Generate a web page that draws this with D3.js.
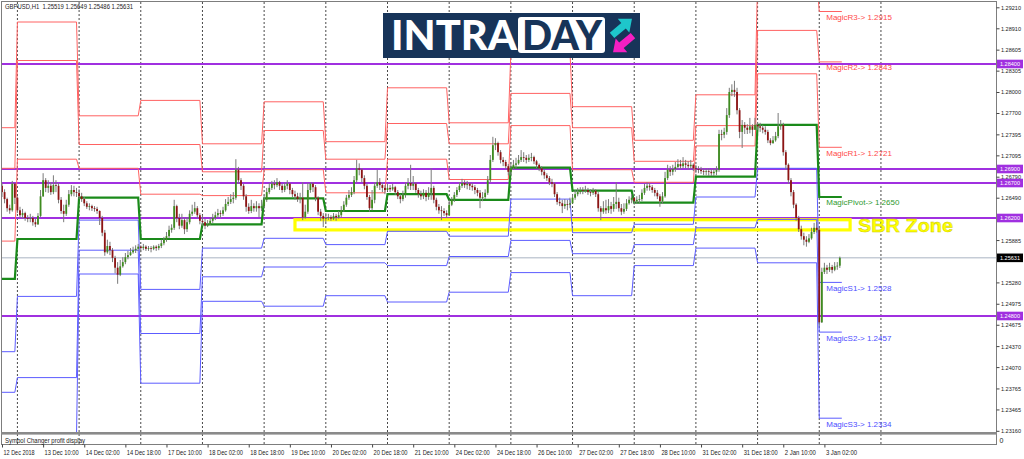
<!DOCTYPE html>
<html><head><meta charset="utf-8">
<script src="https://cdn.jsdelivr.net/npm/d3@7"></script>
<style>body{margin:0;background:#fff}svg{display:block}</style>
</head><body>
<svg id="c" width="1024" height="459"></svg>
<script>
// ---------------- DATA ----------------
const headerText = "GBPUSD,H1  1.25519 1.25649 1.25486 1.25631";
const subWindowTitle = "Symbol Changer profit display";
const dayNames = ["12 Dec","13 Dec","14 Dec","17 Dec","18 Dec","19 Dec","20 Dec","21 Dec","24 Dec","26 Dec","27 Dec","28 Dec","31 Dec","2 Jan","3 Jan"];
const dayFirstHour = [18,0,0,0,0,0,0,0,0,0,0,0,0,0,0];
const barsPerDay = [6,24,24,24,24,24,24,24,24,24,24,24,24,24,9];
const firstOpen = 1.2666;
const closes = [
1.2657,1.2647,1.2634,1.2631,1.2669,1.2649,
1.2631,1.2624,1.2627,1.2620,1.2619,1.2620,1.2614,1.2611,1.2623,1.2651,1.2674,1.2663,1.2666,1.2657,1.2667,1.2666,1.2646,1.2630,1.2626,1.2639,1.2654,1.2660,1.2657,1.2656,
1.2651,1.2647,1.2641,1.2636,1.2637,1.2634,1.2633,1.2630,1.2620,1.2599,1.2571,1.2580,1.2574,1.2563,1.2549,1.2539,1.2551,1.2557,1.2564,1.2567,1.2571,1.2574,1.2576,1.2579,
1.2577,1.2579,1.2576,1.2577,1.2576,1.2579,1.2577,1.2580,1.2584,1.2589,1.2594,1.2603,1.2606,1.2637,1.2620,1.2609,1.2617,1.2604,1.2614,1.2626,1.2629,1.2634,1.2624,1.2616,
1.2614,1.2609,1.2611,1.2616,1.2620,1.2624,1.2627,1.2626,1.2631,1.2640,1.2643,1.2647,1.2649,1.2689,1.2674,1.2666,1.2651,1.2636,1.2630,1.2637,1.2634,1.2637,1.2634,1.2637,
1.2646,1.2657,1.2663,1.2669,1.2667,1.2671,1.2666,1.2660,1.2666,1.2669,1.2660,1.2654,1.2651,1.2647,1.2649,1.2621,1.2629,1.2660,1.2669,1.2664,1.2649,1.2629,1.2623,1.2619,
1.2620,1.2621,1.2619,1.2623,1.2621,1.2624,1.2631,1.2639,1.2649,1.2653,1.2657,1.2674,1.2691,1.2689,1.2677,1.2666,1.2650,1.2634,1.2646,1.2666,1.2671,1.2667,1.2663,1.2660,
1.2663,1.2661,1.2664,1.2657,1.2651,1.2647,1.2653,1.2666,1.2670,1.2666,1.2669,1.2660,1.2654,1.2651,1.2656,1.2650,1.2656,1.2663,1.2646,1.2636,1.2631,1.2630,1.2627,1.2624,
1.2639,1.2646,1.2653,1.2660,1.2666,1.2670,1.2667,1.2669,1.2666,1.2664,1.2660,1.2656,1.2649,1.2650,1.2656,1.2674,1.2703,1.2724,1.2727,1.2714,1.2703,1.2700,1.2694,1.2686,
1.2691,1.2696,1.2698,1.2703,1.2707,1.2706,1.2703,1.2706,1.2707,1.2701,1.2696,1.2691,1.2686,1.2681,1.2677,1.2671,1.2669,1.2654,1.2643,1.2641,1.2637,1.2640,1.2639,1.2641,
1.2649,1.2654,1.2657,1.2660,1.2659,1.2660,1.2657,1.2656,1.2659,1.2654,1.2634,1.2629,1.2634,1.2631,1.2637,1.2633,1.2640,1.2643,1.2634,1.2629,1.2633,1.2641,1.2646,1.2649,
1.2644,1.2646,1.2647,1.2656,1.2663,1.2666,1.2664,1.2660,1.2656,1.2651,1.2644,1.2651,1.2677,1.2689,1.2686,1.2690,1.2693,1.2697,1.2694,1.2698,1.2696,1.2694,1.2696,1.2691,
1.2690,1.2689,1.2687,1.2686,1.2687,1.2686,1.2684,1.2686,1.2689,1.2740,1.2739,1.2743,1.2767,1.2800,1.2803,1.2800,1.2774,1.2743,1.2753,1.2749,1.2746,1.2751,1.2746,1.2753,
1.2751,1.2749,1.2746,1.2743,1.2731,1.2727,1.2731,1.2737,1.2751,1.2753,1.2714,1.2696,1.2674,1.2657,1.2639,1.2620,1.2604,1.2594,1.2589,1.2586,1.2591,1.2600,1.2606,1.2603,
1.2471,1.2543,1.2549,1.2546,1.2550,1.2546,1.2551,1.25519,1.25631];
const highs = [
1.2670,1.2661,1.2649,1.2639,1.2673,1.2670,
1.2651,1.2636,1.2633,1.2629,1.2624,1.2626,1.2623,1.2619,1.2627,1.2660,1.2684,1.2677,1.2674,1.2671,1.2681,1.2674,1.2670,1.2650,1.2639,1.2646,1.2660,1.2667,1.2666,1.2663,
1.2661,1.2656,1.2650,1.2644,1.2641,1.2639,1.2637,1.2636,1.2631,1.2623,1.2603,1.2589,1.2586,1.2577,1.2566,1.2557,1.2560,1.2564,1.2570,1.2573,1.2577,1.2579,1.2581,1.2583,
1.2581,1.2583,1.2581,1.2580,1.2580,1.2581,1.2581,1.2583,1.2589,1.2593,1.2600,1.2609,1.2611,1.2646,1.2639,1.2626,1.2626,1.2620,1.2621,1.2631,1.2639,1.2643,1.2637,1.2627,
1.2624,1.2619,1.2617,1.2621,1.2626,1.2629,1.2633,1.2631,1.2636,1.2647,1.2650,1.2654,1.2657,1.2704,1.2693,1.2677,1.2669,1.2654,1.2641,1.2646,1.2641,1.2644,1.2641,1.2646,
1.2653,1.2663,1.2670,1.2673,1.2674,1.2677,1.2673,1.2669,1.2671,1.2674,1.2670,1.2663,1.2659,1.2656,1.2656,1.2671,1.2639,1.2670,1.2671,1.2671,1.2667,1.2651,1.2633,1.2627,
1.2627,1.2626,1.2624,1.2627,1.2626,1.2630,1.2637,1.2644,1.2653,1.2660,1.2664,1.2680,1.2703,1.2698,1.2691,1.2681,1.2669,1.2653,1.2660,1.2671,1.2689,1.2677,1.2671,1.2667,
1.2669,1.2667,1.2669,1.2666,1.2660,1.2654,1.2659,1.2671,1.2677,1.2696,1.2680,1.2671,1.2663,1.2659,1.2661,1.2660,1.2664,1.2691,1.2666,1.2649,1.2640,1.2637,1.2634,1.2631,
1.2646,1.2650,1.2657,1.2664,1.2671,1.2676,1.2674,1.2673,1.2671,1.2670,1.2667,1.2663,1.2660,1.2657,1.2661,1.2680,1.2710,1.2736,1.2734,1.2729,1.2717,1.2707,1.2703,1.2697,
1.2700,1.2703,1.2706,1.2710,1.2717,1.2714,1.2710,1.2711,1.2713,1.2709,1.2703,1.2698,1.2694,1.2689,1.2684,1.2680,1.2676,1.2671,1.2657,1.2649,1.2646,1.2647,1.2646,1.2649,
1.2654,1.2660,1.2663,1.2664,1.2664,1.2666,1.2663,1.2661,1.2663,1.2661,1.2657,1.2637,1.2644,1.2646,1.2647,1.2643,1.2650,1.2671,1.2649,1.2640,1.2641,1.2647,1.2651,1.2654,
1.2650,1.2651,1.2653,1.2661,1.2669,1.2671,1.2670,1.2667,1.2663,1.2660,1.2654,1.2657,1.2686,1.2696,1.2694,1.2696,1.2700,1.2704,1.2703,1.2707,1.2703,1.2701,1.2703,1.2698,
1.2696,1.2694,1.2693,1.2691,1.2691,1.2691,1.2690,1.2691,1.2694,1.2746,1.2746,1.2749,1.2777,1.2806,1.2811,1.2816,1.2806,1.2777,1.2760,1.2757,1.2754,1.2763,1.2754,1.2763,
1.2757,1.2756,1.2753,1.2751,1.2746,1.2734,1.2737,1.2743,1.2770,1.2760,1.2756,1.2717,1.2698,1.2677,1.2660,1.2641,1.2623,1.2609,1.2599,1.2594,1.2597,1.2606,1.2613,1.2614,
1.2606,1.2549,1.2556,1.2553,1.2556,1.2553,1.2557,1.2557,1.25649];
const lows = [
1.2650,1.2641,1.2629,1.2626,1.2629,1.2640,
1.2627,1.2620,1.2619,1.2616,1.2614,1.2614,1.2609,1.2607,1.2610,1.2621,1.2650,1.2657,1.2656,1.2653,1.2654,1.2657,1.2641,1.2626,1.2614,1.2623,1.2636,1.2651,1.2651,1.2650,
1.2647,1.2643,1.2637,1.2633,1.2631,1.2630,1.2629,1.2626,1.2610,1.2594,1.2566,1.2569,1.2567,1.2557,1.2541,1.2526,1.2537,1.2549,1.2554,1.2561,1.2566,1.2569,1.2570,1.2573,
1.2571,1.2574,1.2573,1.2573,1.2571,1.2574,1.2573,1.2574,1.2577,1.2581,1.2586,1.2591,1.2599,1.2603,1.2614,1.2604,1.2606,1.2597,1.2600,1.2611,1.2623,1.2626,1.2620,1.2611,
1.2609,1.2604,1.2607,1.2610,1.2613,1.2617,1.2621,1.2620,1.2623,1.2629,1.2637,1.2640,1.2641,1.2646,1.2669,1.2660,1.2646,1.2629,1.2626,1.2627,1.2629,1.2629,1.2621,1.2630,
1.2634,1.2643,1.2654,1.2660,1.2661,1.2664,1.2660,1.2656,1.2657,1.2661,1.2654,1.2650,1.2646,1.2643,1.2641,1.2617,1.2619,1.2626,1.2656,1.2657,1.2644,1.2624,1.2616,1.2607,
1.2614,1.2617,1.2616,1.2617,1.2616,1.2619,1.2621,1.2629,1.2636,1.2646,1.2650,1.2654,1.2671,1.2681,1.2671,1.2661,1.2646,1.2629,1.2631,1.2641,1.2663,1.2660,1.2657,1.2654,
1.2659,1.2657,1.2659,1.2653,1.2647,1.2641,1.2644,1.2649,1.2661,1.2660,1.2660,1.2656,1.2649,1.2646,1.2647,1.2644,1.2646,1.2646,1.2641,1.2631,1.2626,1.2617,1.2623,1.2620,
1.2631,1.2637,1.2643,1.2650,1.2657,1.2663,1.2663,1.2661,1.2660,1.2659,1.2654,1.2651,1.2634,1.2644,1.2647,1.2653,1.2671,1.2700,1.2717,1.2709,1.2698,1.2694,1.2690,1.2681,
1.2681,1.2689,1.2691,1.2696,1.2700,1.2700,1.2698,1.2700,1.2701,1.2697,1.2691,1.2687,1.2681,1.2676,1.2673,1.2667,1.2664,1.2650,1.2639,1.2637,1.2627,1.2633,1.2631,1.2634,
1.2641,1.2646,1.2651,1.2654,1.2654,1.2656,1.2653,1.2651,1.2653,1.2650,1.2629,1.2617,1.2626,1.2626,1.2627,1.2626,1.2629,1.2633,1.2629,1.2624,1.2626,1.2630,1.2639,1.2641,
1.2639,1.2640,1.2641,1.2644,1.2653,1.2659,1.2659,1.2656,1.2651,1.2647,1.2636,1.2640,1.2649,1.2674,1.2680,1.2681,1.2686,1.2689,1.2690,1.2691,1.2691,1.2689,1.2690,1.2687,
1.2684,1.2684,1.2683,1.2681,1.2681,1.2680,1.2680,1.2680,1.2681,1.2686,1.2731,1.2734,1.2739,1.2763,1.2794,1.2793,1.2768,1.2734,1.2720,1.2740,1.2740,1.2741,1.2737,1.2746,
1.2746,1.2743,1.2741,1.2739,1.2727,1.2724,1.2726,1.2729,1.2734,1.2746,1.2709,1.2689,1.2669,1.2651,1.2634,1.2616,1.2600,1.2589,1.2581,1.2579,1.2584,1.2589,1.2597,1.2599,
1.2466,1.2470,1.2540,1.2540,1.2543,1.2541,1.2544,1.2546,1.25486];

// Daily "Magic" pivot levels (one value per day)
const magicR3 = [1.2749,1.2900,1.2766,1.2788,1.2726,1.2786,1.2729,1.2806,1.2756,1.2857,1.2779,1.2731,1.2796,1.2960,1.2915];
const magicR2 = [1.2691,1.2845,1.2725,1.2725,1.2686,1.2745,1.2704,1.2755,1.2726,1.2798,1.2749,1.2701,1.2752,1.2888,1.2843];
const magicR1 = [1.2587,1.2704,1.2691,1.2654,1.2652,1.2689,1.2656,1.2704,1.2675,1.2752,1.2689,1.2671,1.2723,1.2826,1.2721];
const magicP  = [1.2533,1.2590,1.2649,1.2590,1.2611,1.2648,1.2630,1.2654,1.2646,1.2692,1.2659,1.2642,1.2679,1.2753,1.2650];
const magicS1 = [1.2429,1.2508,1.2617,1.2518,1.2577,1.2591,1.2582,1.2601,1.2594,1.2647,1.2599,1.2611,1.2650,1.2691,1.2528];
const magicS2 = [1.2371,1.2392,1.2574,1.2455,1.2536,1.2550,1.2556,1.2552,1.2565,1.2588,1.2569,1.2582,1.2606,1.2618,1.2457];
const magicS3 = [1.2269,1.2311,1.2540,1.2384,1.2501,1.2494,1.2509,1.2500,1.2514,1.2542,1.2509,1.2552,1.2577,1.2556,1.2334];
const magicNames = ["MagicR3","MagicR2","MagicR1","MagicPivot","MagicS1","MagicS2","MagicS3"];

const levelLines = [1.28400,1.26900,1.26700,1.26200,1.24800];
const bidPrice = 1.25631;
const sbrZone = {top:1.26175, bottom:1.26030, from:"19 Dec 12:00", to:"3 Jan 12:00", label:"SBR Zone"};
const priceTicks = [1.29210,1.28910,1.28605,1.28305,1.28000,1.27700,1.27395,1.27095,1.26790,1.26490,1.25885,1.25280,1.24975,1.24675,1.24370,1.24070,1.23765,1.23465,1.23160];
const timeLabels = ["12 Dec 2018","13 Dec 10:00","14 Dec 02:00","14 Dec 18:00","17 Dec 10:00","18 Dec 02:00","18 Dec 18:00","19 Dec 10:00","20 Dec 02:00","20 Dec 18:00","21 Dec 10:00","24 Dec 02:00","24 Dec 18:00","26 Dec 10:00","27 Dec 02:00","27 Dec 18:00","28 Dec 10:00","31 Dec 02:00","31 Dec 18:00","2 Jan 10:00","3 Jan 02:00"];

// ---------------- LAYOUT ----------------
const svg = d3.select("#c");
const plot = {left:2, right:996, top:2, bottom:432};
const barStep = 2.57;
const dayStart = [];
barsPerDay.reduce((acc,n)=>{dayStart.push(acc);return acc+n;},0);
const nBars = d3.sum(barsPerDay);
const lastDay = dayNames.length-1;
const xs = d3.scaleLinear().domain([0,1]).range([2,2+barStep]);
const ys = d3.scaleLinear().domain([1.2316,1.2921]).range([430.8,7.3]);
const FONT = "'Liberation Sans',Arial,sans-serif";

function barIndexOf(label){
  const m = label.match(/^(\d+ \w+)(?: (\d+):00| \d{4})?$/);
  const d = dayNames.indexOf(m[1]);
  const h = m[2]===undefined ? dayFirstHour[d] : +m[2];
  return dayStart[d] + h - dayFirstHour[d];
}

svg.append("rect").attr("width",1024).attr("height",459).attr("fill","#fff");
const defs = svg.append("defs");
defs.append("clipPath").attr("id","pc").append("rect")
  .attr("x",plot.left).attr("y",plot.top).attr("width",plot.right-plot.left).attr("height",plot.bottom-plot.top);

// period separators (day starts)
const seps = dayStart.slice(1).concat([dayStart[lastDay]+24]);
svg.append("g").selectAll("line").data(seps).join("line")
  .attr("x1",d=>xs(d)).attr("x2",d=>xs(d)).attr("y1",2).attr("y2",444)
  .attr("stroke","#4a4a4a").attr("stroke-width",1).attr("stroke-dasharray","2,2");

const g = svg.append("g").attr("clip-path","url(#pc)");

// horizontal level lines
g.selectAll(".lvl").data(levelLines).join("line").attr("class","lvl")
  .attr("x1",plot.left).attr("x2",plot.right).attr("y1",d=>ys(d)).attr("y2",d=>ys(d))
  .attr("stroke","#a030e0").attr("stroke-width",1.8);
g.append("line").attr("x1",plot.left).attr("x2",plot.right).attr("y1",ys(bidPrice)).attr("y2",ys(bidPrice))
  .attr("stroke","#a9b3c2").attr("stroke-width",1);

// SBR zone rectangle
const zx1 = xs(barIndexOf(sbrZone.from)), zx2 = xs(barIndexOf(sbrZone.to));
g.append("rect").attr("x",zx1).attr("y",ys(sbrZone.top)).attr("width",zx2-zx1)
  .attr("height",ys(sbrZone.bottom)-ys(sbrZone.top))
  .attr("fill","none").attr("stroke","#ffff00").attr("stroke-width",3.2);

// pivot step lines
function levelPoints(vals){
  const pts=[];
  vals.forEach((v,d)=>{
    const s = dayStart[d];
    const e = d===lastDay ? nBars-1 : dayStart[d]+barsPerDay[d]-1;
    pts.push([xs(s),ys(v)]);
    pts.push([d===lastDay ? xs(e)+2 : xs(e), ys(v)]);
  });
  return pts;
}
const line = d3.line();
const levels = [
  {v:magicR3,c:"#ff6262",w:1},{v:magicR2,c:"#ff6262",w:1},{v:magicR1,c:"#ff6262",w:1},
  {v:magicS1,c:"#5c5cff",w:1},{v:magicS2,c:"#5c5cff",w:1},{v:magicS3,c:"#5c5cff",w:1},
  {v:magicP,c:"#1a8a1a",w:2.2}
];
levels.forEach(L=>{
  g.append("path").attr("d",line(levelPoints(L.v))).attr("fill","none")
   .attr("stroke",L.c).attr("stroke-width",L.w);
});

// candles
const bars = closes.map((c,i)=>({i,o:i===0?firstOpen:closes[i-1],h:highs[i],l:lows[i],c}));
const cg = g.append("g");
cg.selectAll(".wick").data(bars).join("line").attr("class","wick")
  .attr("x1",d=>xs(d.i)).attr("x2",d=>xs(d.i))
  .attr("y1",d=>ys(Math.max(d.h,d.o,d.c))).attr("y2",d=>ys(Math.min(d.l,d.o,d.c)))
  .attr("stroke","#7a7a7a").attr("stroke-width",1);
cg.selectAll(".body").data(bars).join("rect").attr("class","body")
  .attr("x",d=>xs(d.i)-0.9).attr("width",1.8)
  .attr("y",d=>ys(Math.max(d.o,d.c)))
  .attr("height",d=>Math.max(0.8,Math.abs(ys(d.o)-ys(d.c))))
  .attr("fill",d=>d.c>=d.o?"#3e8c1f":"#8e1414");

// current day labels
const curVals = [magicR3,magicR2,magicR1,magicP,magicS1,magicS2,magicS3].map(a=>a[lastDay]);
const curCols = ["#ff4a4a","#ff4a4a","#ff4a4a","#2f9a2f","#4d4dff","#4d4dff","#4d4dff"];
svg.append("g").selectAll("text").data(curVals).join("text")
  .attr("x",xs(dayStart[lastDay])+7).attr("y",d=>ys(d)+8.4)
  .attr("font-family",FONT).attr("font-size",8)
  .attr("fill",(d,i)=>curCols[i])
  .text((d,i)=>magicNames[i]+"-> "+d.toFixed(4));

// SBR zone label
svg.append("text").attr("x",858).attr("y",ys(sbrZone.bottom)+2.5)
  .attr("font-family",FONT).attr("font-weight","bold").attr("font-size",18)
  .attr("textLength",95).attr("lengthAdjust","spacingAndGlyphs")
  .attr("fill","#ffff00").attr("stroke","#c8c800").attr("stroke-width",0.4)
  .text(sbrZone.label);

// logo
const logo = svg.append("g");
logo.append("rect").attr("x",383).attr("y",13).attr("width",257).attr("height",45).attr("fill","#173459");
logo.append("text").attr("x",391).attr("y",50).attr("font-family","Lato,'Open Sans',sans-serif")
  .attr("font-weight",900).attr("font-size",41).attr("fill","#fff")
  .attr("textLength",126).attr("lengthAdjust","spacingAndGlyphs").text("INTRA");
logo.append("rect").attr("x",518).attr("y",17).attr("width",87).attr("height",36).attr("rx",3).attr("fill","#fff");
logo.append("text").attr("x",522).attr("y",50).attr("font-family","Lato,'Open Sans',sans-serif")
  .attr("font-weight",900).attr("font-size",41).attr("fill","#173459")
  .attr("textLength",80).attr("lengthAdjust","spacingAndGlyphs").text("DAY");
const arrowShape = [[-13,-3.5],[2,-3.5],[2,-9],[13,0],[2,9],[2,3.5],[-13,3.5]];
logo.append("polygon").attr("points",arrowShape.join(" ")).attr("transform","translate(622,27) rotate(-40)").attr("fill","#1ec6cb");
logo.append("polygon").attr("points",arrowShape.join(" ")).attr("transform","translate(623,44) rotate(140)").attr("fill","#f41fc2");

// frame
const frame = svg.append("g").attr("stroke","#7d7d7d").attr("fill","none");
frame.append("line").attr("x1",1).attr("x2",996.5).attr("y1",1.5).attr("y2",1.5);
frame.append("line").attr("x1",1.5).attr("x2",1.5).attr("y1",1).attr("y2",445);
frame.append("line").attr("x1",996.5).attr("x2",996.5).attr("y1",1).attr("y2",445);
svg.append("rect").attr("x",1).attr("y",432).attr("width",996).attr("height",2.6).attr("fill","#8a8a8a");
frame.append("line").attr("x1",1).attr("x2",996.5).attr("y1",444.5).attr("y2",444.5);

// price axis
const yAxis = d3.axisRight(ys).tickValues(priceTicks).tickSize(3).tickFormat(d3.format(".5f"));
const ya = svg.append("g").attr("transform","translate(996.5,0)").call(yAxis);
ya.select(".domain").remove();
ya.selectAll("line").attr("stroke","#444");
ya.selectAll("text").attr("x",4.5).attr("font-family",FONT).attr("font-size",6.2)
  .attr("fill","#222").attr("textLength",20).attr("lengthAdjust","spacingAndGlyphs");

// highlighted price labels
const hl = levelLines.map(v=>({v,bg:"#a030e0"})).concat([{v:bidPrice,bg:"#000"}]);
const hg = svg.append("g").selectAll("g").data(hl).join("g").attr("transform",d=>`translate(997,${ys(d.v)})`);
hg.append("rect").attr("x",0).attr("y",-4.3).attr("width",26).attr("height",8.6).attr("fill",d=>d.bg);
hg.append("text").attr("x",3).attr("y",2.4).attr("font-family",FONT).attr("font-size",6.2)
  .attr("fill","#fff").attr("textLength",20).attr("lengthAdjust","spacingAndGlyphs").text(d=>d.v.toFixed(5));

// time axis
const tickBars = timeLabels.map(barIndexOf);
const xAxis = d3.axisBottom(xs).tickValues(tickBars).tickSize(3).tickFormat((d,i)=>timeLabels[i]);
const xa = svg.append("g").attr("transform","translate(0,444.5)").call(xAxis);
xa.select(".domain").remove();
xa.selectAll("line").attr("stroke","#444");
xa.selectAll("text").attr("text-anchor","start").attr("x",1).attr("y",6).attr("dy","0.71em")
  .attr("font-family",FONT).attr("font-size",7).attr("fill","#222")
  .attr("textLength",function(){return this.textContent.length*2.83;}).attr("lengthAdjust","spacingAndGlyphs");

// header & sub-window text
svg.append("text").attr("x",5).attr("y",9).attr("font-family",FONT).attr("font-size",7.5)
  .attr("fill","#222").style("white-space","pre").attr("textLength",128).attr("lengthAdjust","spacingAndGlyphs").text(headerText);
svg.append("text").attr("x",5).attr("y",442.5).attr("font-family",FONT).attr("font-size",7.5)
  .attr("fill","#222").attr("textLength",80).attr("lengthAdjust","spacingAndGlyphs").text(subWindowTitle);
svg.append("text").attr("x",999.5).attr("y",443).attr("font-family",FONT).attr("font-size",7)
  .attr("fill","#222").text("0");
</script>
</body></html>
